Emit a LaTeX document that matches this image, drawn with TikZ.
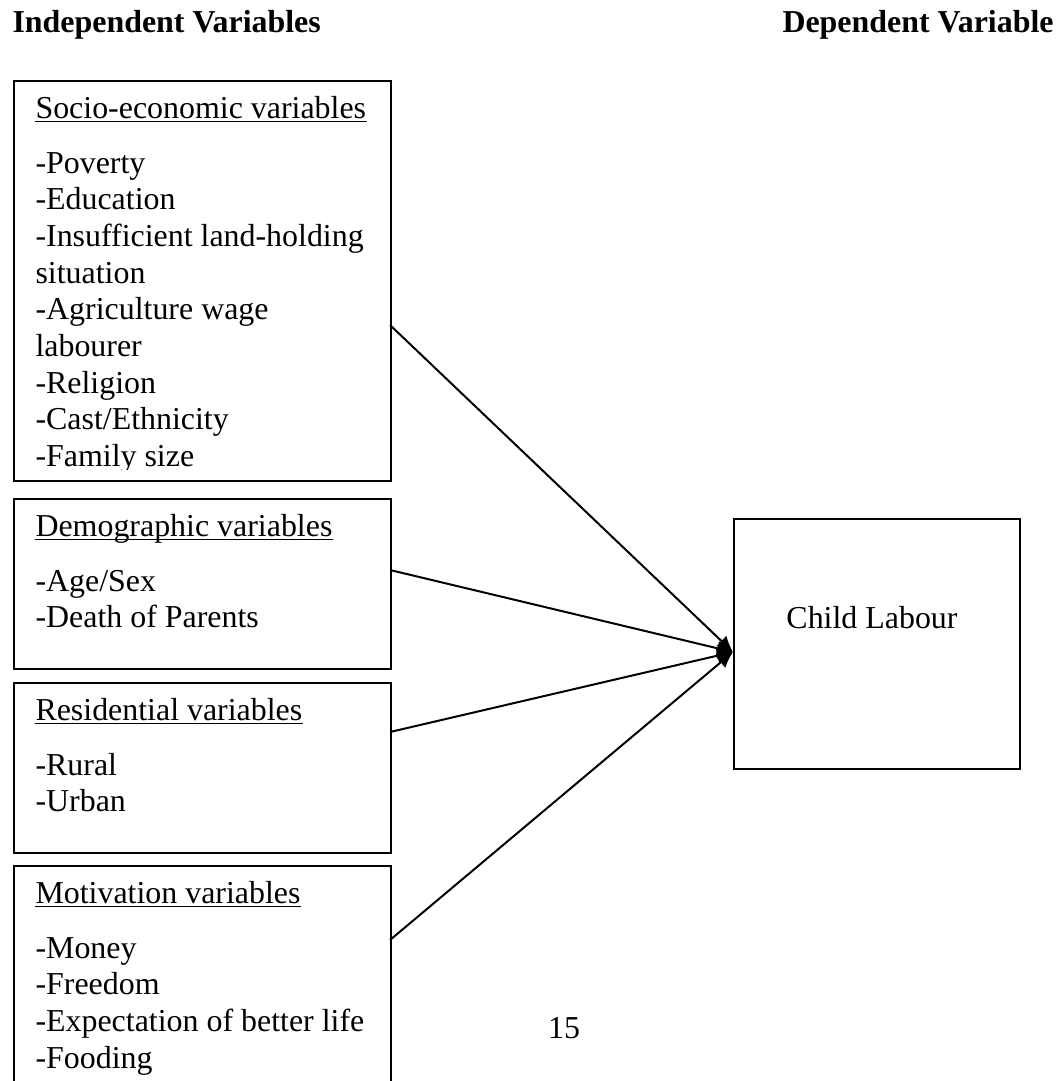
\documentclass[tikz,border=0pt,12pt]{standalone}
\usepackage{fontspec}
\setmainfont{Liberation Serif}
\usetikzlibrary{arrows.meta}
\tikzset{
	box/.style={draw, line width=0.8pt, inner sep=0pt, anchor=north west, minimum width=141.75pt},
	item/.style={inner sep=0pt, anchor=base west, font=\fontsize{12}{14}\selectfont},
	uline/.style={line width=0.6pt},
	link/.style={line width=0.75pt, -{Latex[length=6pt,width=5.5pt]}}
}
\begin{document}
\begin{tikzpicture}[x=0.376pt,y=-0.376pt]
	\useasboundingbox[fill=white] (0,0) rectangle (1061,1081);
	\clip (0,0) rectangle (1061,1081);

	\node[item, font=\fontsize{12}{14}\selectfont\bfseries] (indep) at (12,32) {Independent Variables};
	\node[item, font=\fontsize{12}{14}\selectfont\bfseries] (dep) at (782,32) {Dependent Variable};

	\node[box, minimum height=150.4pt] (socio) at (13,80) {};
	\node[box, minimum height=63.9pt] (demo) at (13,498) {};
	\node[box, minimum height=63.9pt] (resid) at (13,682) {};
	\node[box, minimum height=90pt] (motiv) at (13,865) {};
	\node[box, minimum width=107.5pt, minimum height=94pt] (child) at (733,518) {};

	\begin{scope}
		\clip (13,80) rectangle (390,469);
		\node[item] (socio-head) at (35,118) {Socio-economic variables};
		\foreach \t [count=\i] in {-Poverty,-Education,-Insufficient land-holding,situation,-Agriculture wage,labourer,-Religion,-Cast/Ethnicity,-Family size}
			\node[item] (socio-\i) at (35,{136.3+36.7*\i}) {\t};
	\end{scope}

	\node[item] (demo-head) at (35,536) {Demographic variables};
	\foreach \t [count=\i] in {-Age/Sex,-Death of Parents}
		\node[item] (demo-\i) at (35,{554.3+36.7*\i}) {\t};

	\node[item] (resid-head) at (35,720) {Residential variables};
	\foreach \t [count=\i] in {-Rural,-Urban}
		\node[item] (resid-\i) at (35,{738.3+36.7*\i}) {\t};

	\node[item] (motiv-head) at (35,903) {Motivation variables};
	\foreach \t [count=\i] in {-Money,-Freedom,-Expectation of better life,-Fooding}
		\node[item] (motiv-\i) at (35,{921.3+36.7*\i}) {\t};

	\foreach \h in {socio,demo,resid,motiv}
		\draw[uline] ([yshift=-1.3pt]\h-head.base west) -- ([yshift=-1.3pt]\h-head.base east);

	\node[item, anchor=base] (child-text) at (872,628) {Child Labour};
	\node[item, anchor=base] (page) at (564,1038) {15};

	\coordinate (tip) at (733,652);
	\coordinate (socio-out) at (390,325);
	\coordinate (demo-out) at (390,570);
	\coordinate (resid-out) at (390,732);
	\coordinate (motiv-out) at (390,940);
	\draw[link] (socio-out) -- (tip);
	\draw[link] (demo-out) -- (tip);
	\draw[link] (resid-out) -- (tip);
	\draw[link] (motiv-out) -- (tip);
\end{tikzpicture}
\end{document}
